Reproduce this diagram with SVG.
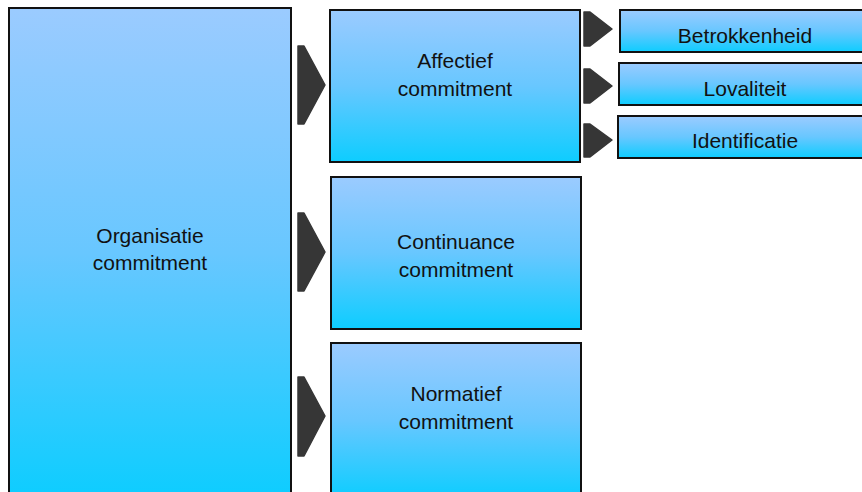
<svg xmlns="http://www.w3.org/2000/svg" width="862" height="492" viewBox="0 0 862 492">
<defs>
<linearGradient id="g" x1="0" y1="0" x2="0" y2="1">
<stop offset="0" stop-color="#9bcbff"/>
<stop offset="0.5" stop-color="#68c7ff"/>
<stop offset="1" stop-color="#0dcdff"/>
</linearGradient>
<style>
.box{fill:url(#g);stroke:#111;stroke-width:2}
.arr{fill:#363636;stroke:#363636;stroke-width:1.5;stroke-linejoin:round}
.t{font-family:"Liberation Sans",Arial,sans-serif;font-size:21px;fill:#111;text-anchor:middle}
</style>
</defs>
<g id="connectors">
<polygon class="arr" points="298,46 304,46 325,85 304,124 298,124"/>
<polygon class="arr" points="298,213 304,213 325,252 304,291 298,291"/>
<polygon class="arr" points="298,377 304,377 325,416 304,456 298,456"/>
<polygon class="arr" points="584,12 590,12 612,29 590,46 584,46"/>
<polygon class="arr" points="584,69 590,69 612,86 590,103 584,103"/>
<polygon class="arr" points="584,124 590,124 612,140 590,157 584,157"/>
</g>
<g id="organisatie">
<rect class="box" x="9" y="8" width="282" height="490"/>
<text class="t" x="150" y="243">Organisatie</text>
<text class="t" x="150" y="270">commitment</text>
</g>
<g id="affectief">
<rect class="box" x="330" y="10" width="250" height="152"/>
<text class="t" x="455" y="68">Affectief</text>
<text class="t" x="455" y="96">commitment</text>
</g>
<g id="continuance">
<rect class="box" x="331" y="177" width="250" height="152"/>
<text class="t" x="456" y="249">Continuance</text>
<text class="t" x="456" y="277">commitment</text>
</g>
<g id="normatief">
<rect class="box" x="331" y="343" width="250" height="155"/>
<text class="t" x="456" y="401">Normatief</text>
<text class="t" x="456" y="429">commitment</text>
</g>
<g id="betrokkenheid">
<rect class="box" x="620" y="10" width="252" height="42"/>
<text class="t" x="745" y="43">Betrokkenheid</text>
</g>
<g id="lovaliteit">
<rect class="box" x="619" y="63" width="252" height="42"/>
<text class="t" x="745" y="96">Lovaliteit</text>
</g>
<g id="identificatie">
<rect class="box" x="618" y="116" width="252" height="42"/>
<text class="t" x="745" y="148">Identificatie</text>
</g>
</svg>
